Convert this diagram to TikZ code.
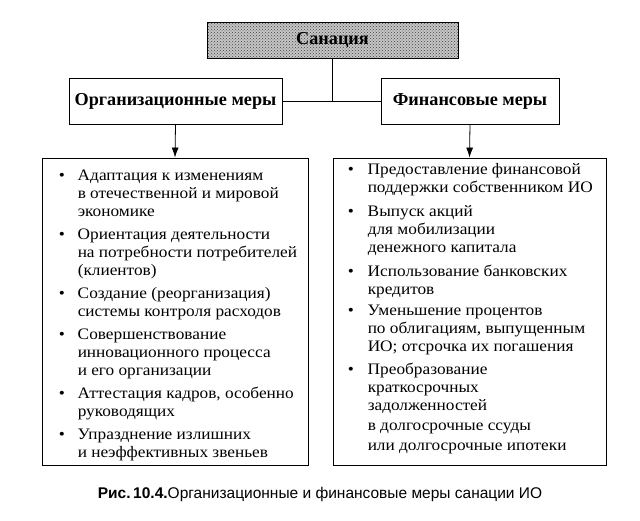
\documentclass[tikz,border=0pt]{standalone}
\usepackage{fontspec}
\setmainfont{Liberation Serif}
\newfontfamily\listfont{Liberation Serif}[FakeStretch=1.08]
\newfontfamily\capfont{Liberation Sans}
\usetikzlibrary{arrows.meta,patterns}

\begin{document}
\begin{tikzpicture}[x=1pt,y=-1pt,
    box/.style={draw,line width=0.9pt,inner sep=0pt},
    head/.style={box,font=\fontsize{18.2}{20}\selectfont\bfseries},
    list/.style={anchor=north west,inner sep=0pt,font=\listfont\fontsize{16}{18}\selectfont},
    link/.style={line width=0.8pt},
    arr/.style={link,-{Latex[length=10pt,width=7pt]}},
  ]
  \useasboundingbox (0,0) rectangle (640,520);
  % headings
  \node[head,minimum width=251pt,minimum height=36pt,
    preaction={fill=gray!45},pattern=crosshatch dots,pattern color=black!75] (san) at (332.5,40) {Санация};
  \node[head,minimum width=213pt,minimum height=46pt] (org) at (175.5,101) {Организационные меры};
  \node[head,minimum width=178pt,minimum height=46pt] (fin) at (470,101) {Финансовые меры};
  % lists
  \node[box,minimum width=266pt,minimum height=307pt] (orgbox) at (175,311.5) {};
  \node[box,minimum width=273pt,minimum height=307pt] (finbox) at (469.5,311.5) {};
  \node[list] (orglist) at ([shift={(17,10)}]orgbox.north west) {%
    \begin{tabular}{@{}p{19pt}@{}l@{}}
      • & Адаптация к изменениям\\
        & в отечественной и мировой\\
        & экономике\\[5pt]
      • & Ориентация деятельности\\
        & на потребности потребителей\\
        & (клиентов)\\[5pt]
      • & Создание (реорганизация)\\
        & системы контроля расходов\\[5pt]
      • & Совершенствование\\
        & инновационного процесса\\
        & и его организации\\[5pt]
      • & Аттестация кадров, особенно\\
        & руководящих\\[5pt]
      • & Упразднение излишних\\
        & и неэффективных звеньев
    \end{tabular}};
  \node[list] (finlist) at ([shift={(15,4)}]finbox.north west) {%
    \begin{tabular}{@{}p{20pt}@{}l@{}}
      • & Предоставление финансовой\\
        & поддержки собственником ИО\\[6pt]
      • & Выпуск акций\\
        & для мобилизации\\
        & денежного капитала\\[6pt]
      • & Использование банковских\\
        & кредитов\\[3pt]
      • & Уменьшение процентов\\
        & по облигациям, выпущенным\\
        & ИО; отсрочка их погашения\\[5pt]
      • & Преобразование\\
        & краткосрочных\\
        & задолженностей\\[2pt]
        & в долгосрочные ссуды\\[2pt]
        & или долгосрочные ипотеки
    \end{tabular}};
  % connectors
  \draw[link] (san.south) -- (san.south |- org.east);
  \draw[link] (org.east) -- (fin.west);
  \draw[arr] (org.south) -- (orgbox.north);
  \draw[arr] (fin.south) -- (finbox.north);
  % caption
  \node[font=\capfont\fontsize{15.5}{18}\selectfont] (cap) at (320,494)
    {\textbf{Рис.\,10.4.}Организационные и финансовые меры санации ИО};
\end{tikzpicture}
\end{document}
